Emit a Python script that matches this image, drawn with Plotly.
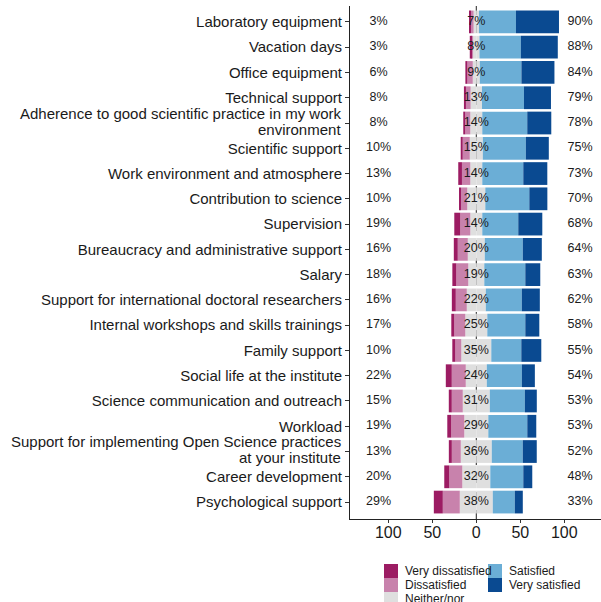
import plotly.graph_objects as go

categories = [
    "Laboratory equipment", "Vacation days", "Office equipment", "Technical support",
    "Adherence to good scientific practice in my work<br>environment",
    "Scientific support", "Work environment and atmosphere", "Contribution to science",
    "Supervision", "Bureaucracy and administrative support", "Salary",
    "Support for international doctoral researchers", "Internal workshops and skills trainings",
    "Family support", "Social life at the institute", "Science communication and outreach",
    "Workload", "Support for implementing Open Science practices<br>at your institute",
    "Career development", "Psychological support",
]

# segment sizes (percent)
very_dis = [1.5, 1.5, 2.3, 2.3, 2.3, 2.3, 4.2, 1.9, 6.8, 4.5, 4.5, 4.5, 3.4, 3.4, 6.8, 3.4, 4.5, 3.4, 5.7, 10.2]
dis = [3.0, 2.3, 6.1, 5.3, 5.7, 8.0, 9.5, 7.2, 11.4, 11.4, 13.6, 12.5, 12.5, 6.8, 15.9, 12.5, 14.8, 10.2, 14.8, 19.3]
neither = [6.1, 7.2, 8.0, 12.9, 13.6, 14.8, 13.6, 20.5, 13.6, 19.3, 18.2, 21.6, 25.0, 34.1, 23.9, 30.7, 27.3, 35.2, 31.8, 37.5]
sat = [42.0, 47.0, 47.3, 47.7, 51.1, 48.9, 46.6, 50.0, 40.9, 43.2, 46.6, 40.9, 43.2, 34.1, 39.8, 39.8, 44.3, 35.2, 37.5, 25.0]
very_sat = [48.9, 42.0, 37.5, 30.7, 27.3, 26.1, 27.3, 20.5, 27.3, 21.6, 17.0, 20.5, 15.9, 22.7, 14.8, 13.6, 10.2, 15.9, 10.2, 9.1]

# printed percentages
low_pct = [3, 3, 6, 8, 8, 10, 13, 10, 19, 16, 18, 16, 17, 10, 22, 15, 19, 13, 20, 29]
mid_pct = [7, 8, 9, 13, 14, 15, 14, 21, 14, 20, 19, 22, 25, 35, 24, 31, 29, 36, 32, 38]
high_pct = [90, 88, 84, 79, 78, 75, 73, 70, 68, 64, 63, 62, 58, 55, 54, 53, 53, 52, 48, 33]

levels = ["Very dissatisfied", "Dissatisfied", "Neither/nor", "Satisfied", "Very satisfied"]
colors = ["#9C1C63", "#C882AC", "#DFDFDF", "#6BAED6", "#0A4A91"]

FONT = "Liberation Sans, Arial, sans-serif"
TXT = "#1A1A1A"

fig = go.Figure()

def add_bar(vals, color):
    fig.add_trace(go.Bar(y=categories, x=vals, orientation="h", marker_color=color,
                         marker_line_width=0, showlegend=False, hoverinfo="skip"))

# negatives stack outwards from zero in trace order
add_bar([-v / 2 for v in neither], colors[2])
add_bar([-v for v in dis], colors[1])
add_bar([-v for v in very_dis], colors[0])
add_bar([v / 2 for v in neither], colors[2])
add_bar(sat, colors[3])
add_bar(very_sat, colors[4])

LEFT_X, RIGHT_X = -111, 118
def add_pct(xpos, pcts):
    fig.add_trace(go.Scatter(y=categories, x=[xpos] * len(categories), mode="text",
                             text=[f"{p}%" for p in pcts], textposition="middle center",
                             textfont=dict(size=12.5, color=TXT, family=FONT),
                             showlegend=False, hoverinfo="skip"))

add_pct(LEFT_X, low_pct)
add_pct(0, mid_pct)
add_pct(RIGHT_X, high_pct)

fig.add_shape(type="line", x0=0, x1=0, xref="x", y0=0, y1=1, yref="paper",
              line=dict(color="#222", width=1, dash="dash"), layer="below")

W, H = 601, 602
ML, MR, MT, MB = 350, 0, 6, 83
pw, ph = W - ML - MR, H - MT - MB
def px_x(p):
    return (p - ML) / pw
def px_y(p):
    return (H - MB - p) / ph

# two-line category labels drawn as separate lines (tighter leading than plotly's)
ticktext = []
for cat in categories:
    if "<br>" in cat:
        ticktext.append("")
        lines = cat.split("<br>")
        for k, line in enumerate(lines):
            fig.add_annotation(xref="paper", yref="y", x=px_x(343), y=cat, text=line,
                               showarrow=False, xanchor="right", yanchor="middle",
                               yshift=10 - 16 * k, font=dict(size=15, color=TXT, family=FONT))
    else:
        ticktext.append(cat)

# legend drawn by hand: two columns, column-major
col_x = [384, 488]
row_top = 564
sw = 14
for i, (lab, col) in enumerate(zip(levels, colors)):
    c, r = (0, i) if i < 3 else (1, i - 3)
    x0 = col_x[c]
    y0 = row_top + r * sw
    fig.add_shape(type="rect", xref="paper", yref="paper",
                  x0=px_x(x0), x1=px_x(x0 + sw), y0=px_y(y0), y1=px_y(y0 + sw),
                  fillcolor=col, line_width=0)
    fig.add_annotation(xref="paper", yref="paper", x=px_x(x0 + sw + 5), y=px_y(y0 + sw / 2),
                       text=lab, showarrow=False, xanchor="left", yanchor="middle",
                       font=dict(size=12, color=TXT, family=FONT))

n_cat = len(categories)
fig.update_layout(
    width=W, height=H,
    margin=dict(l=ML, r=MR, t=MT, b=MB, autoexpand=False),
    barmode="relative", bargap=0.1,
    plot_bgcolor="white", paper_bgcolor="white",
    font=dict(family=FONT, color=TXT),
    xaxis=dict(range=[-143.5, 141.7], tickvals=[-100, -50, 0, 50, 100],
               ticktext=["100", "50", "0", "50", "100"], tickfont=dict(size=16, color=TXT),
               showgrid=False, zeroline=False, showline=True, linecolor="#222", linewidth=1,
               ticks="outside", ticklen=3, tickcolor="#333", ticklabelstandoff=-4,
               automargin=False),
    yaxis=dict(range=[n_cat - 1 + 0.67, -0.63], tickmode="array", tickvals=categories,
               ticktext=ticktext, tickfont=dict(size=15, color=TXT), showgrid=False,
               zeroline=False, showline=True, linecolor="#222", linewidth=1,
               ticks="outside", ticklen=4, tickcolor="#333", automargin=False),
)

fig.write_html("out.html", config={"displayModeBar": False},
               post_script="document.body.style.margin='0';")
